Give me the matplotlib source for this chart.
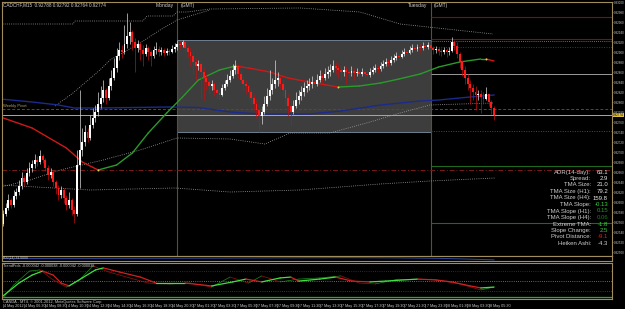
import matplotlib
matplotlib.use("Agg")
import matplotlib.pyplot as plt
import matplotlib.transforms as mtransforms
from matplotlib.collections import LineCollection
import numpy as np

plt.rcParams['font.family'] = ['Liberation Sans', 'DejaVu Sans']

W, H = 625, 309
POINT = 1e-5
symbol = "CADCHF,M15"

# ---------------- price data (MT4 points, 1 point = 0.00001) ----------------
first_open_pts = 92556
close_pts = [92576, 92588, 92604, 92594, 92612, 92620, 92632, 92648, 92640, 92658, 92668, 92676, 92684, 92680, 92692,
             92684, 92668, 92654, 92660, 92640, 92628, 92614, 92624, 92608, 92594, 92604, 92584, 92576,
             92674, 92704, 92720, 92740, 92728, 92754, 92768, 92780, 92796, 92808, 92824, 92808, 92832, 92848, 92868,
             92892, 92904, 92900, 92916, 92932, 92940, 92920, 92908, 92916, 92904, 92896, 92908, 92900, 92892, 92904,
             92906, 92900, 92904, 92898, 92902, 92900, 92906, 92910,
             92916, 92914, 92920, 92908, 92900, 92892, 92880, 92872, 92876, 92860, 92848, 92840, 92832, 92836, 92824,
             92818, 92814, 92828, 92836, 92844, 92852, 92864, 92872, 92856, 92844, 92836, 92832, 92820, 92808, 92796,
             92784, 92772, 92780, 92796, 92812, 92824, 92836, 92844, 92848, 92836, 92824, 92808, 92792, 92780, 92792,
             92804, 92812, 92820, 92828, 92832, 92836, 92840, 92836, 92844, 92852, 92848, 92856, 92860, 92864, 92872,
             92868, 92864, 92860, 92864, 92860, 92858, 92862, 92858, 92860, 92856, 92860, 92856, 92854, 92860, 92864,
             92868, 92866, 92872, 92876, 92880, 92878, 92884, 92888, 92892, 92890, 92896, 92900, 92898, 92904, 92908,
             92906, 92910, 92908, 92912, 92910, 92914,
             92908, 92904, 92906, 92902, 92900, 92904, 92900, 92902, 92920, 92912, 92896, 92880, 92864, 92848, 92836,
             92828, 92820, 92814, 92816, 92810, 92806, 92816, 92800, 92788, 92774]
high_pts = [92584, 92598, 92616, 92608, 92624, 92628, 92644, 92660, 92654, 92668, 92680, 92684, 92696, 92692, 92704,
            92696, 92688, 92674, 92668, 92664, 92644, 92634, 92632, 92628, 92614, 92620, 92608, 92592,
            92704, 92824, 92748, 92754, 92748, 92774, 92788, 92794, 92820, 92832, 92844, 92828, 92848, 92864, 92888,
            92908, 92920, 92914, 92954, 92978, 92960, 92944, 92928, 92924, 92920, 92914, 92916, 92912, 92904, 92912,
            92920, 92912, 92910, 92908, 92908, 92906, 92914, 92918,
            92924, 92922, 92924, 92920, 92914, 92908, 92900, 92888, 92884, 92880, 92868, 92856, 92848, 92844, 92840,
            92832, 92828, 92836, 92844, 92856, 92864, 92876, 92884, 92876, 92864, 92852, 92844, 92836, 92828, 92816,
            92804, 92796, 92792, 92812, 92828, 92864, 92848, 92884, 92860, 92852, 92844, 92832, 92816, 92804, 92804,
            92820, 92824, 92832, 92840, 92844, 92848, 92852, 92848, 92856, 92864, 92860, 92868, 92872, 92876, 92884,
            92880, 92876, 92872, 92872, 92872, 92868, 92872, 92868, 92868, 92864, 92868, 92864, 92864, 92868, 92872,
            92876, 92874, 92880, 92884, 92888, 92886, 92892, 92896, 92900, 92898, 92904, 92908, 92906, 92912, 92916,
            92914, 92916, 92916, 92920, 92916, 92920,
            92916, 92912, 92912, 92910, 92908, 92910, 92908, 92910, 92930, 92924, 92920, 92900, 92884, 92872, 92856,
            92844, 92836, 92832, 92824, 92824, 92820, 92830, 92816, 92804, 92792]
low_pts = [92552, 92572, 92584, 92588, 92590, 92606, 92614, 92626, 92632, 92636, 92652, 92660, 92668, 92672, 92676,
           92678, 92662, 92644, 92648, 92632, 92616, 92604, 92608, 92598, 92584, 92588, 92574, 92558,
           92572, 92628, 92692, 92712, 92720, 92724, 92748, 92760, 92772, 92788, 92800, 92796, 92804, 92824, 92844,
           92860, 92884, 92888, 92896, 92908, 92916, 92904, 92860, 92900, 92884, 92872, 92892, 92884, 92872, 92888,
           92896, 92892, 92894, 92892, 92894, 92894, 92898, 92900,
           92904, 92906, 92910, 92900, 92890, 92872, 92856, 92844, 92864, 92808, 92804, 92824, 92816, 92824, 92812,
           92808, 92806, 92812, 92824, 92832, 92840, 92848, 92856, 92848, 92836, 92824, 92816, 92804, 92796, 92784,
           92768, 92740, 92756, 92776, 92792, 92804, 92816, 92828, 92832, 92828, 92812, 92796, 92772, 92754, 92776,
           92788, 92796, 92804, 92812, 92820, 92824, 92828, 92828, 92832, 92840, 92836, 92844, 92848, 92852, 92860,
           92856, 92848, 92844, 92852, 92836, 92848, 92852, 92844, 92852, 92844, 92852, 92848, 92844, 92850, 92856,
           92860, 92858, 92862, 92868, 92872, 92872, 92874, 92880, 92884, 92884, 92888, 92892, 92892, 92896, 92900,
           92900, 92902, 92900, 92904, 92904, 92906,
           92900, 92896, 92898, 92894, 92892, 92896, 92890, 92894, 92900, 92904, 92888, 92868, 92852, 92836, 92824,
           92796, 92804, 92784, 92804, 92778, 92796, 92804, 92792, 92776, 92764]

monday_bar = 66
tuesday_bar = 162

# TMA centre line (bar, points)
tma_bars = [-1, 11, 24, 30, 36, 43, 49, 55, 62, 68, 74, 82, 88, 93, 101, 108, 116, 127, 135, 143, 150, 158, 165, 173, 181, 183, 186]
tma_pts = [92770, 92748, 92708, 92680, 92664, 92674, 92698, 92738, 92778, 92810, 92844, 92864, 92872, 92868, 92860,
           92848, 92840, 92830, 92832, 92838, 92846, 92856, 92870, 92880, 92886, 92886, 92882]
tma_turn_bars = [36, 88, 127, 183]

# slow blue moving average
ma_bars = [-1, 11, 21, 27, 36, 63, 74, 86, 97, 116, 128, 143, 158, 165, 177, 186]
ma_pts = [92806, 92800, 92794, 92788, 92788, 92790, 92789, 92780, 92776, 92776, 92782, 92794, 92802, 92804, 92810, 92814]

# dotted bands
bandA_bars = [-1, 26.5, 27.3, 53, 54.5, 64.4, 65.9, 69.7, 78.4, 112.5, 135.2, 150.4, 185.6]
bandA_pts = [92956, 92956, 92962, 92962, 92972, 92972, 92980, 92980, 92986, 92988, 92980, 92956, 92936]
bandB_bars = [19.7, 26.5, 36.7, 40.5, 51.9, 59.5, 65.9, 74.6, 78.4]
bandB_pts = [92792, 92818, 92864, 92884, 92918, 92944, 92964, 92978, 92984]
bandC_bars = [-1, 10.2, 21.6, 37.9, 51.9, 65.9, 86, 99.2, 108.7, 123.9, 139, 150.4, 161.7, 185.6]
bandC_pts = [92630, 92644, 92664, 92684, 92704, 92728, 92726, 92716, 92738, 92738, 92760, 92778, 92794, 92798]
bandD_bars = [-1, 33, 65.2, 86, 112.5, 142.8, 161.7, 186.4]
bandD_pts = [92634, 92624, 92628, 92620, 92624, 92636, 92642, 92648]

# horizontal levels
pivot_line_pts = 92786      # dark green dashed, whole chart
daily_dashdot_pts = 92664   # dark red dash-dot, whole chart
grey_level_pts = 92856
red_levels_pts = [92970, 92926]
red_dotted_pts = 92910
grey_dotted_pts = 92922
green_levels_pts = [92672, 92558]
green_dotted_pts = 92742

# info panel
info_labels = ["ADR(14-day):", "Spread:", "TMA Size:", "TMA Size (H1):", "TMA Size (H4):", "TMA Slope:",
               "TMA Slope (H1):", "TMA Slope (H4):", "Extreme TMA:", "Slope Change:", "Pivot Distance:", "Heiken Ashi:"]
info_values = ["63.1", "2.9", "21.0", "79.2", "159.8", "-0.13", "0.15", "0.06", "-1.8", "2.5", "-9.1", "-4.3"]
info_colors = ["#e8e8e8", "#e8e8e8", "#e8e8e8", "#e8e8e8", "#e8e8e8", "#3ccf3c", "#2a9a2a", "#207a20",
               "#3ccf3c", "#3ccf3c", "#e02020", "#d0d0d0"]

# RSI sub-window
rsi_bars = [0, 40, 80, 110, 130, 150, 165, 175, 186]
rsi_vals = [50, 52, 54, 58, 60, 57, 52, 44, 34]

# trend sub-window (slow and fast lines)
slow_bars = [0, 6, 11, 15, 19, 22, 25, 30, 35, 38, 44, 52, 58, 64, 69, 79, 87, 92, 98, 105, 109, 112, 120, 126,
             132, 139, 145, 157, 164, 170, 177, 181, 186]
slow_vals = [-108e-6, -18e-6, 38e-6, 66e-6, 38e-6, -18e-6, -38e-6, 18e-6, 74e-6, 88e-6, 60e-6, 24e-6, -18e-6,
             -18e-6, -18e-6, -38e-6, -10e-6, 10e-6, -10e-6, 18e-6, 24e-6, -4e-6, 10e-6, 24e-6, -4e-6, -10e-6,
             -4e-6, 10e-6, 4e-6, -10e-6, -38e-6, -52e-6, -46e-6]
fast_bars = [0, 4, 10, 14, 19, 24, 29, 34, 40, 48, 55, 63, 71, 79, 86, 93, 98, 105, 112, 120, 128, 135, 141, 150,
             162, 173, 181, 186]
fast_vals = [-122e-6, -32e-6, 66e-6, 74e-6, 4e-6, -46e-6, 4e-6, 102e-6, 60e-6, 18e-6, -18e-6, -24e-6, -18e-6,
             -46e-6, 24e-6, -18e-6, 32e-6, -10e-6, 10e-6, 18e-6, 32e-6, -18e-6, -24e-6, 10e-6, 10e-6, -24e-6,
             -66e-6, -46e-6]
trend_levels = [70e-6, 0.0, -70e-6]
trend_floor = -115e-6
trend_text = "TrendFrds -0.000042 -0.000038 -0.000042 -0.000038"

# time labels every 8 bars
time_label_bars = list(range(0, 187, 8))
time_labels = ["4 May 2012", "4 May 06:30", "4 May 08:30", "4 May 10:30", "4 May 12:30", "4 May 14:30",
               "4 May 16:30", "4 May 18:30", "4 May 20:30", "7 May 01:30", "7 May 03:30", "7 May 05:30",
               "7 May 07:30", "7 May 09:30", "7 May 11:30", "7 May 13:30", "7 May 15:30", "7 May 17:30",
               "7 May 19:30", "7 May 21:30", "7 May 23:30", "8 May 01:30", "8 May 03:30", "8 May 05:30"]

# ---------------- figure ----------------
BG = "black"
TAN = "#a08c5c"
fig = plt.figure(figsize=(W / 100, H / 100), dpi=100, facecolor=BG)


def ax_px(x0, y0, x1, y1):
    a = fig.add_axes([x0 / W, 1 - y1 / H, (x1 - x0) / W, (y1 - y0) / H])
    a.set_facecolor(BG)
    for s in a.spines.values():
        s.set_color(TAN)
        s.set_linewidth(0.8)
    a.tick_params(left=False, bottom=False, labelleft=False, labelbottom=False)
    return a


def ftext(x, y, s, **kw):
    fig.text(x / W, 1 - y / H, s, **kw)


XL = (-0.4, 230.7)
n = len(close_pts)
bars = np.arange(n)
P = lambda v: np.asarray(v, dtype=float) * POINT
close = P(close_pts)
high = P(high_pts)
low = P(low_pts)
openp = np.concatenate([[first_open_pts * POINT], close[:-1]])

ax = ax_px(2, 2, 612, 255.5)
ax.set_xlim(*XL)
ax.set_ylim(0.92493, 0.93000)

# Monday range box
mon = slice(monday_bar, tuesday_bar)
box_top, box_bot = high[mon].max(), low[mon].min()
ax.fill_between([monday_bar, tuesday_bar], box_bot, box_top, color="#3d3d3d", zorder=0.5, lw=0)
ax.hlines([box_top, box_bot], monday_bar, tuesday_bar, color="#6f8090", lw=0.7, zorder=0.6)

# day separators
ax.axvline(monday_bar, color="#55552c", lw=0.8, zorder=0.7)
ax.axvline(tuesday_bar, color="#55552c", lw=0.8, zorder=0.7)

# horizontal levels
ax.axhline(pivot_line_pts * POINT, color="#1f6a1f", lw=0.7, ls=(0, (3, 2)), zorder=1)
ax.axhline(daily_dashdot_pts * POINT, color="#7a1a1a", lw=0.7, ls=(0, (5, 2, 1, 2)), zorder=1)
ax.axhline(close[-1], color="#a8a8a8", lw=0.7, zorder=1)
xr = [tuesday_bar, XL[1]]
ax.hlines(red_levels_pts[0] * POINT, *xr, color="#7a1010", lw=0.8, zorder=1)
ax.hlines(red_levels_pts[1] * POINT, *xr, color="#7a1010", lw=0.8, zorder=1)
ax.hlines(grey_dotted_pts * POINT, *xr, color="#909090", lw=0.6, ls=(0, (1, 1.5)), zorder=1)
ax.hlines(red_dotted_pts * POINT, *xr, color="#8a1a1a", lw=0.7, ls=(0, (1, 1.5)), zorder=1)
ax.hlines(grey_level_pts * POINT, *xr, color="#9a9a9a", lw=0.7, zorder=1)
ax.hlines(green_dotted_pts * POINT, *xr, color="#1f6a1f", lw=0.7, ls=(0, (1, 1.5)), zorder=1)
for g in green_levels_pts:
    ax.hlines(g * POINT, *xr, color="#1f6a1f", lw=0.8, zorder=1)

# dotted bands
for bx, by in [(bandA_bars, bandA_pts), (bandB_bars, bandB_pts), (bandC_bars, bandC_pts), (bandD_bars, bandD_pts)]:
    ax.plot(bx, P(by), color="#a0a0a0", lw=0.6, ls=(0, (1, 1.6)), zorder=1.2)

# blue MA
ax.plot(ma_bars, P(ma_pts), color="#1c2a8c", lw=1.0, zorder=1.3)


def slope_line(a, xs, ys, up, down, lw, z):
    xs = np.asarray(xs, float)
    ys = np.asarray(ys, float)
    segs = [[(xs[i], ys[i]), (xs[i + 1], ys[i + 1])] for i in range(len(xs) - 1)]
    cols = [up if ys[i + 1] >= ys[i] else down for i in range(len(xs) - 1)]
    a.add_collection(LineCollection(segs, colors=cols, linewidths=lw, capstyle="round", zorder=z))


slope_line(ax, tma_bars, P(tma_pts), "#2a9a2a", "#d01818", 1.0, 1.5)
tma_interp_turn = np.interp(tma_turn_bars, tma_bars, P(tma_pts))
ax.scatter(tma_turn_bars, tma_interp_turn, s=2.0, color="#e8d040", zorder=1.6, lw=0)

# candles
up = close >= openp
body_lo = np.minimum(openp, close)
body_h = np.maximum(np.abs(close - openp), 0.6 * POINT)
ccol = np.where(up, "#ffffff", "#ff1a1a")
wcol = np.where(up, "#d8d8d8", "#c01010")
ax.vlines(bars, low, high, colors=wcol, lw=0.5, zorder=2)
ax.bar(bars, body_h, bottom=body_lo, width=0.72, color=ccol, lw=0, zorder=2.1)

# right price axis
ax.yaxis.set_ticks_position("right")
ax.tick_params(right=True, labelright=True, length=1.0, width=0.5, color=TAN, labelsize=2.2,
               labelcolor="#c8c8c8", pad=0.4)
ax.set_yticks(np.arange(0.92500, 0.93000, 0.00020))
ax.yaxis.set_major_formatter(matplotlib.ticker.FormatStrFormatter("%.5f"))
trans = mtransforms.blended_transform_factory(ax.transAxes, ax.transData)
ax.text(1.0015, close[-1], f"{close[-1]:.5f}", transform=trans, fontsize=2.2, color="black", va="center",
        ha="left", bbox=dict(boxstyle="square,pad=0.12", fc="#e0c040", ec="none"), zorder=5, clip_on=False)

# header and day labels
ftext(3, 5, f"{symbol}  {openp[-1]:.5f} {high[-1]:.5f} {low[-1]:.5f} {close[-1]:.5f}", fontsize=3.3,
      color="#d0d0d0", va="center")
ftext(174, 5, "Monday", fontsize=3.6, color="#d0d0d0", va="center", ha="right")
ftext(181, 5, "(GMT)", fontsize=3.6, color="#d0d0d0", va="center")
ftext(427, 5, "Tuesday", fontsize=3.6, color="#d0d0d0", va="center", ha="right")
ftext(434, 5, "(GMT)", fontsize=3.6, color="#d0d0d0", va="center")
ftext(3, 106, "Weekly Pivot", fontsize=3.0, color="#b8a060", va="center")

# info panel
for k, (lab, val, col) in enumerate(zip(info_labels, info_values, info_colors)):
    yy = 172 + k * 6.5
    ftext(591, yy, lab, fontsize=4.3, color="#cfcfcf", ha="right", va="center")
    ftext(608, yy, val, fontsize=4.3, color=col, ha="right", va="center")

# RSI window
ax2 = ax_px(2, 256, 612, 261)
ax2.set_xlim(*XL)
ax2.set_ylim(20, 80)
ax2.plot(rsi_bars, rsi_vals, color="#2a4aa0", lw=0.7)
ftext(3, 257.5, f"RSI(14) {rsi_vals[-1]:.4f}", fontsize=2.4, color="#c8c8c8", va="center")

# trend window
ax3 = ax_px(2, 263, 612, 299)
ax3.set_xlim(*XL)
ax3.set_ylim(-129.5e-6, 122.5e-6)
ax3.axhline(trend_levels[0], color="#7a2020", lw=0.6, ls=(0, (1, 1.6)))
ax3.axhline(trend_levels[1], color="#8a8a8a", lw=0.6, ls=(0, (1, 1.6)))
ax3.axhline(trend_levels[2], color="#1f6a1f", lw=0.6, ls=(0, (1, 1.6)))
ax3.axhline(trend_floor, color="#20b020", lw=0.9)
slope_line(ax3, fast_bars, fast_vals, "#1f8a1f", "#9a1010", 0.5, 2)
slope_line(ax3, slow_bars, slow_vals, "#40e040", "#d02020", 0.9, 2.1)
ftext(3, 266, trend_text, fontsize=2.8, color="#c8c8c8", va="center")
ftext(3, 301.5, "CANDA - MT4, \u00a9 2001-2012, MetaQuotes Software Corp.", fontsize=2.8, color="#c8c8c8",
      va="center")

# time labels
for b, lab in zip(time_label_bars, time_labels):
    xpix = 2 + (b - XL[0]) / (XL[1] - XL[0]) * 610
    ftext(xpix, 306, "|", fontsize=2.8, color="#c8c8c8", va="center", ha="center")
    ftext(xpix + 1.2, 306, lab, fontsize=2.7, color="#c8c8c8", va="center")

fig.savefig("out.png", dpi=100, facecolor=BG)
